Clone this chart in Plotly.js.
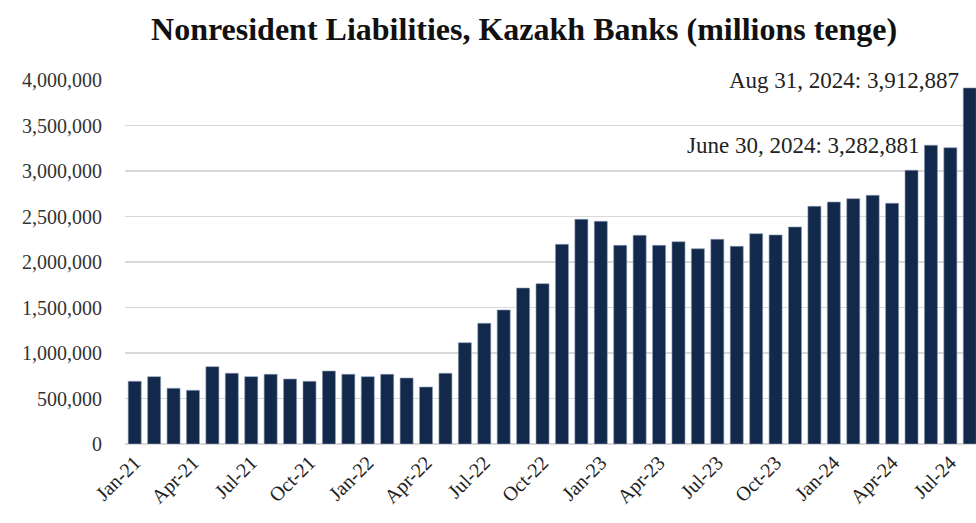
<!DOCTYPE html>
<html>
<head>
<meta charset="utf-8">
<script src="https://cdn.plot.ly/plotly-3.0.1.min.js"></script>
<style>html,body{margin:0;padding:0;background:#fff;}#chart{width:976px;height:523px;}</style>
</head>
<body>
<div id="chart"></div>
<script>
const months = [
  "Jan-21","Feb-21","Mar-21","Apr-21","May-21","Jun-21","Jul-21","Aug-21","Sep-21","Oct-21","Nov-21","Dec-21",
  "Jan-22","Feb-22","Mar-22","Apr-22","May-22","Jun-22","Jul-22","Aug-22","Sep-22","Oct-22","Nov-22","Dec-22",
  "Jan-23","Feb-23","Mar-23","Apr-23","May-23","Jun-23","Jul-23","Aug-23","Sep-23","Oct-23","Nov-23","Dec-23",
  "Jan-24","Feb-24","Mar-24","Apr-24","May-24","Jun-24","Jul-24","Aug-24"
];
const liabilities = [
  689000, 740000, 612000, 590000, 850000, 777000, 740000, 766000, 714000, 689000, 802000, 766000,
  740000, 766000, 725000, 626000, 777000, 1113000, 1326000, 1473000, 1714000, 1762000, 2194000, 2469000,
  2447000, 2183000, 2293000, 2183000, 2223000, 2146000, 2249000, 2172000, 2311000, 2297000, 2385000, 2612000,
  2659000, 2696000, 2733000, 2645000, 3008000, 3282881, 3256000, 3912887
];
const tickLabels = ["Jan-21","Apr-21","Jul-21","Oct-21","Jan-22","Apr-22","Jul-22","Oct-22","Jan-23","Apr-23","Jul-23","Oct-23","Jan-24","Apr-24","Jul-24"];
const yTicks = [0, 500000, 1000000, 1500000, 2000000, 2500000, 3000000, 3500000, 4000000];
const notes = [
  {month: "Jun-24", label: "June 30, 2024: 3,282,881", ypos: 3282881},
  {month: "Aug-24", label: "Aug 31, 2024: 3,912,887", ypos: 4000000}
];

const serif = "Liberation Serif, Times New Roman, serif";

const trace = {
  type: "bar",
  x: months,
  y: liabilities,
  marker: {color: "#13294b", line: {color: "#8a9bb3", width: 0.6}},
  hoverinfo: "x+y"
};

const layout = {
  width: 976, height: 523,
  margin: {l: 125, r: 0, t: 80, b: 79},
  paper_bgcolor: "#fff", plot_bgcolor: "#fff",
  showlegend: false,
  bargap: 0.33,
  title: {text: "<b>Nonresident Liabilities, Kazakh Banks (millions tenge)</b>",
          font: {family: serif, size: 32, color: "#111"},
          x: 0.537, xanchor: "center", y: 0.945, yanchor: "middle"},
  xaxis: {
    type: "category",
    range: [-0.5, 43.32],
    tickmode: "array", tickvals: tickLabels, ticktext: tickLabels,
    tickangle: -45,
    tickfont: {family: serif, size: 20, color: "#222"},
    showgrid: false, showline: false, ticks: "",
    ticklabelstandoff: 2
  },
  yaxis: {
    range: [0, 4000000],
    tickmode: "array", tickvals: yTicks,
    tickformat: ",d",
    tickfont: {family: serif, size: 20, color: "#333"},
    showgrid: true, gridcolor: "#d9d9d9", gridwidth: 1.5,
    zeroline: true, zerolinecolor: "#d9d9d9", zerolinewidth: 1.5,
    showline: false, ticks: "",
    ticklabelstandoff: 22
  },
  annotations: notes.map(n => ({
    x: n.month, y: n.ypos, xref: "x", yref: "y",
    text: n.label, showarrow: false,
    xanchor: "right", yanchor: "middle", xshift: -9,
    font: {family: serif, size: 23, color: "#222"}
  }))
};

Plotly.newPlot("chart", [trace], layout, {displayModeBar: false, staticPlot: true});
</script>
</body>
</html>
